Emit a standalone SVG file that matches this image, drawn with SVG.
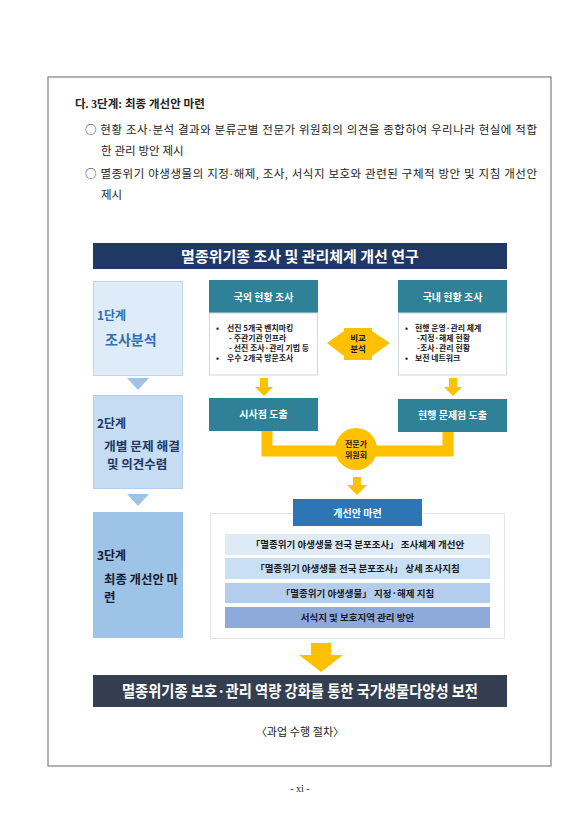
<svg xmlns="http://www.w3.org/2000/svg" width="586" height="830" viewBox="0 0 586 830">
<style>
.serif{font-family:"Liberation Serif","Noto Sans CJK KR",serif;fill:#222}
.sans{font-family:"Noto Sans CJK KR","Noto Sans",sans-serif}
.circ{font-family:"Noto Sans CJK KR",sans-serif}
.wb{fill:#fff;font-weight:bold}
.stg{font-family:"Noto Sans CJK KR",sans-serif;font-weight:bold}
.row{font-family:"Noto Sans CJK KR",sans-serif;font-weight:bold;font-size:9.5px;fill:#1a1a1a;text-anchor:middle}
.bl{font-family:"Noto Sans CJK KR",sans-serif;font-weight:bold;font-size:7.9px;fill:#1a1a1a}
.teal{fill:#2f8198}
.yel{fill:#ffc000}
</style>
<rect width="586" height="830" fill="#fff"/>
<rect x="48" y="77" width="503" height="689" fill="none" stroke="#7f7f7f" stroke-width="1.2"/>

<g id="intro">
<text class="serif" x="75" y="108" font-size="11.5" font-weight="bold">다. 3단계: 최종 개선안 마련</text>
<text class="serif" x="85" y="134" font-size="11.5" textLength="452" lengthAdjust="spacing"><tspan class="circ">○</tspan> 현황 조사·분석 결과와 분류군별 전문가 위원회의 의견을 종합하여 우리나라 현실에 적합</text>
<text class="serif" x="101" y="155" font-size="11.5">한 관리 방안 제시</text>
<text class="serif" x="85" y="178" font-size="11.5" textLength="452" lengthAdjust="spacing"><tspan class="circ">○</tspan> 멸종위기 야생생물의 지정·해제, 조사, 서식지 보호와 관련된 구체적 방안 및 지침 개선안</text>
<text class="serif" x="101" y="199" font-size="11.5">제시</text>
</g>

<g id="title">
<rect x="93" y="243" width="414" height="26" fill="#203864"/>
<text class="sans wb" x="300" y="261.5" font-size="15" text-anchor="middle">멸종위기종 조사 및 관리체계 개선 연구</text>
</g>

<g id="stage1">
<rect x="93.5" y="281.5" width="89" height="94" fill="#deebf8" stroke="#bdd7ee"/>
<text class="stg" x="97" y="320" font-size="12" fill="#2e6fb5" font-weight="normal">1단계</text>
<text class="stg" x="105" y="345" font-size="14" fill="#2e6fb5">조사분석</text>
</g>
<polygon points="127,378 149,378 138,390" fill="#9dc3e6"/>
<g id="stage2">
<rect x="93.5" y="395.5" width="89" height="93" fill="#c5dcf2" stroke="#b4cfec"/>
<text class="stg" x="97" y="428" font-size="12" fill="#203864">2단계</text>
<text class="stg" x="104" y="451" font-size="12.5" fill="#203864" textLength="76" lengthAdjust="spacingAndGlyphs">개별 문제 해결</text>
<text class="stg" x="107" y="469" font-size="12.5" fill="#203864">및 의견수렴</text>
</g>
<polygon points="127,494 149,494 138,506" fill="#9dc3e6"/>
<g id="stage3">
<rect x="93.5" y="512.5" width="89" height="125" fill="#9dc3e6" stroke="#9dc3e6"/>
<text class="stg" x="97" y="560" font-size="12" fill="#1a1a2a">3단계</text>
<text class="stg" x="104" y="584" font-size="12.5" fill="#1a1a2a" textLength="74" lengthAdjust="spacingAndGlyphs">최종 개선안 마</text>
<text class="stg" x="104" y="602" font-size="12.5" fill="#1a1a2a">련</text>
</g>

<g id="foreign">
<rect x="209" y="280" width="109" height="33" class="teal"/>
<rect x="209.5" y="313" width="108" height="62" fill="#fff" stroke="#d0d7de"/>
<text class="sans wb" x="263.5" y="301" font-size="10" text-anchor="middle">국외 현황 조사</text>
<text class="bl" x="216" y="330.5">•<tspan x="227">선진 5개국 벤치마킹</tspan></text>
<text class="bl" x="229" y="340.8" font-weight="normal">- 주관기관 인프라</text>
<text class="bl" x="229" y="351.1" font-weight="normal">- 선진 조사·관리 기법 등</text>
<text class="bl" x="216" y="361.4">•<tspan x="227">우수 2개국 방문조사</tspan></text>
</g>
<g id="domestic">
<rect x="398" y="280" width="109" height="33" class="teal"/>
<rect x="398.5" y="313" width="108" height="62" fill="#fff" stroke="#d0d7de"/>
<text class="sans wb" x="452.5" y="301" font-size="10" text-anchor="middle">국내 현황 조사</text>
<text class="bl" x="405" y="330.5">•<tspan x="415">현행 운영·관리 체계</tspan></text>
<text class="bl" x="417" y="340.8" font-weight="normal">-지정·해제 현황</text>
<text class="bl" x="417" y="351.1" font-weight="normal">-조사·관리 현황</text>
<text class="bl" x="405" y="361.4">•<tspan x="415">보전 네트워크</tspan></text>
</g>
<g id="compare">
<polygon class="yel" points="327,343 344,331 344,328 372,328 372,331 390,343 372,356 372,360 344,360 344,356"/>
<text class="sans" x="358" y="341" font-size="8.5" font-weight="bold" fill="#1a1a1a" text-anchor="middle">비교</text>
<text class="sans" x="358" y="352" font-size="8.5" font-weight="bold" fill="#1a1a1a" text-anchor="middle">분석</text>
</g>

<g id="connectors">
<polygon class="yel" points="260,378 268,378 268,387 273,387 264,396 255,387 260,387"/>
<polygon class="yel" points="449,378 457,378 457,387 462,387 453,396 444,387 449,387"/>
<path d="M267,431 V451 H448 V432" fill="none" stroke="#ffc000" stroke-width="11"/>
<polygon class="yel" points="353,477 361,477 361,485 367,485 357,495 347,485 353,485"/>
<polygon class="yel" points="311,643 331,643 331,655 343,655 321,672 299,655 311,655"/>
</g>

<g id="pointA">
<rect x="209" y="398" width="109" height="33" class="teal"/>
<text class="sans wb" x="263.5" y="418" font-size="10" text-anchor="middle">시사점 도출</text>
</g>
<g id="pointB">
<rect x="398" y="399" width="109" height="33" class="teal"/>
<text class="sans wb" x="452.5" y="419" font-size="10" text-anchor="middle">현행 문제점 도출</text>
</g>
<g id="committee">
<circle cx="356" cy="449" r="21" fill="#ffc000"/>
<text class="sans" x="356" y="447" font-size="8" font-weight="bold" fill="#1a1a1a" text-anchor="middle">전문가</text>
<text class="sans" x="356" y="458" font-size="8" font-weight="bold" fill="#1a1a1a" text-anchor="middle">위원회</text>
</g>

<g id="plan">
<rect x="210.5" y="513.5" width="294" height="125" fill="#fff" stroke="#e3e6ea"/>
<rect x="293" y="499" width="129" height="27" fill="#2e75b6"/>
<text class="sans wb" x="357.5" y="516.5" font-size="10" text-anchor="middle">개선안 마련</text>
<rect x="225" y="534" width="265" height="21" fill="#deebf7"/>
<text class="row" x="357.5" y="548">「멸종위기 야생생물 전국 분포조사」 조사체계 개선안</text>
<rect x="225" y="558" width="265" height="21" fill="#c9dff3"/>
<text class="row" x="357.5" y="572">「멸종위기 야생생물 전국 분포조사」 상세 조사지침</text>
<rect x="225" y="583" width="265" height="20" fill="#b4cdef"/>
<text class="row" x="357.5" y="597">「멸종위기 야생생물」 지정·해제 지침</text>
<rect x="225" y="607" width="265" height="21" fill="#8eaadb"/>
<text class="row" x="357.5" y="621">서식지 및 보호지역 관리 방안</text>
</g>

<g id="goal">
<rect x="93" y="675" width="414" height="32" fill="#333f50"/>
<text class="sans wb" x="122" y="697" font-size="15.5" textLength="356" lengthAdjust="spacingAndGlyphs">멸종위기종 보호·관리 역량 강화를 통한 국가생물다양성 보전</text>
</g>

<text class="serif" x="300" y="736" font-size="11" text-anchor="middle">〈과업 수행 절차〉</text>
<text class="serif" x="300" y="792" font-size="10" text-anchor="middle" fill="#444">- xi -</text>
</svg>
